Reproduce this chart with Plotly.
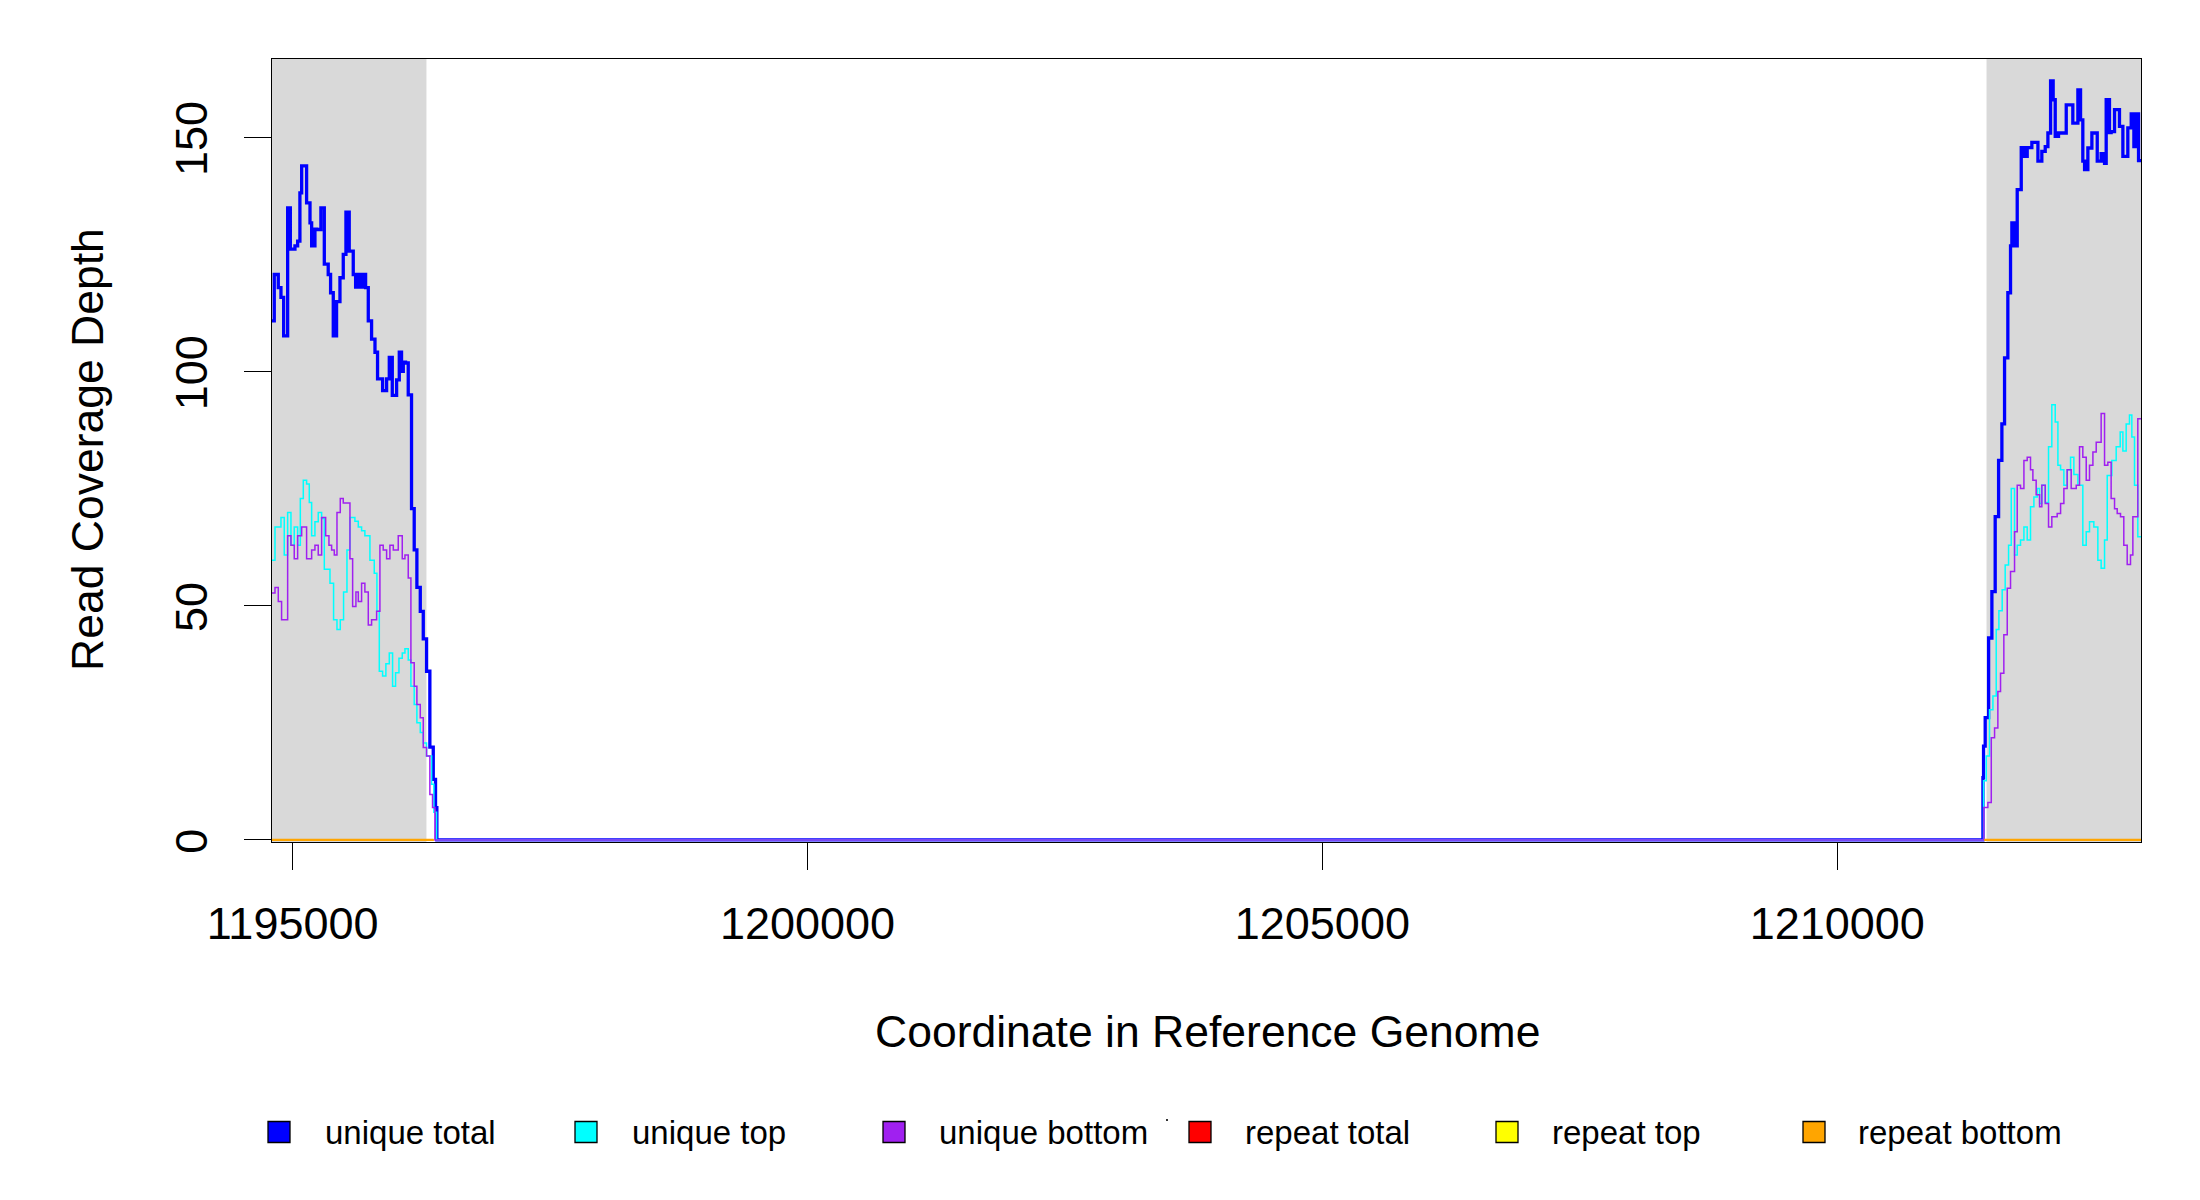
import plotly.graph_objects as go

# ---------------- data ----------------
x_ticks = [1195000, 1200000, 1205000, 1210000]
x_tick_labels = ["1195000", "1200000", "1205000", "1210000"]
y_ticks = [0, 50, 100, 150]
y_tick_labels = ["0", "50", "100", "150"]
x_limits = [1194800, 1212950]
y_limits = [-0.45, 166.7]

shaded_regions = [[1194800, 1196300], [1211450, 1212950]]

# unique total, left block (step starts) and right block
ut_left_x = [1194800, 1194822, 1194861, 1194887, 1194913, 1194952, 1194978, 1195023, 1195049, 1195071,
             1195088, 1195136, 1195169, 1195185, 1195217, 1195233, 1195275, 1195308, 1195346, 1195369,
             1195395, 1195427, 1195460, 1195492, 1195518, 1195550, 1195589, 1195612, 1195638, 1195664,
             1195686, 1195709, 1195735, 1195767, 1195800, 1195825, 1195874, 1195913, 1195939, 1195968,
             1196010, 1196036, 1196058, 1196075, 1196097, 1196123, 1196155, 1196181, 1196207, 1196240,
             1196269, 1196301, 1196333, 1196366, 1196388, 1196401]
ut_left_y = [110.8, 120.7, 117.9, 115.8, 107.6, 134.9, 126.1, 126.8, 127.8, 138.1,
             143.9, 136.0, 131.7, 126.8, 130.4, 130.3, 134.9, 122.9, 120.7, 116.8,
             107.6, 114.9, 120.0, 125.0, 134.0, 125.7, 120.7, 118.0, 120.7, 118.0,
             120.7, 117.9, 110.8, 106.9, 104.1, 98.4, 95.9, 98.4, 103.0, 94.9,
             98.2, 104.1, 100.0, 102.0, 101.8, 95.0, 70.7, 61.9, 53.9, 48.8,
             42.9, 36.0, 19.8, 12.9, 6.9, 0.0]
ut_right_x = [1211415, 1211421, 1211437, 1211470, 1211502, 1211534, 1211567, 1211599, 1211625, 1211657,
              1211683, 1211696, 1211716, 1211748, 1211787, 1211819, 1211845, 1211890, 1211949, 1211987,
              1212020, 1212046, 1212072, 1212097, 1212117, 1212149, 1212224, 1212288, 1212337, 1212363,
              1212385, 1212402, 1212434, 1212473, 1212525, 1212563, 1212580, 1212596, 1212612, 1212644,
              1212660, 1212693, 1212741, 1212774, 1212822, 1212855, 1212881, 1212903, 1212926, 1212950]
ut_right_y = [13.3, 20.0, 26.1, 43.1, 53.0, 69.0, 81.0, 88.8, 102.9, 116.8,
              126.8, 131.7, 126.8, 138.8, 147.8, 145.9, 147.8, 148.9, 144.9, 147.0,
              148.0, 150.9, 162.0, 158.0, 150.2, 150.9, 156.9, 153.0, 160.1, 153.7,
              144.9, 143.1, 147.7, 150.9, 144.9, 146.5, 144.9, 144.4, 158.0, 151.0,
              151.2, 155.9, 152.3, 145.9, 152.0, 155.0, 148.0, 155.0, 145.0, 145.0]

# unique top
utop_left_x = [1194800, 1194829, 1194887, 1194919, 1194952, 1194984, 1195016, 1195049, 1195075, 1195104,
               1195136, 1195162, 1195185, 1195217, 1195249, 1195282, 1195308, 1195363, 1195398, 1195431,
               1195463, 1195495, 1195528, 1195557, 1195605, 1195638, 1195670, 1195702, 1195751, 1195793,
               1195819, 1195842, 1195874, 1195906, 1195939, 1195971, 1196000, 1196033, 1196065, 1196091,
               1196123, 1196149, 1196181, 1196207, 1196240, 1196269, 1196301, 1196350, 1196372, 1196398]
utop_left_y = [59.7, 66.8, 68.8, 60.8, 69.9, 62.9, 66.8, 62.9, 72.9, 76.8,
               76.0, 72.0, 64.9, 67.9, 69.9, 68.6, 57.8, 54.8, 47.0, 44.9,
               47.0, 52.9, 61.9, 68.8, 68.0, 66.8, 66.0, 64.9, 59.7, 56.9,
               48.8, 36.0, 35.0, 37.6, 39.9, 32.8, 35.7, 38.8, 39.9, 40.8,
               38.4, 32.8, 28.9, 25.0, 22.9, 20.7, 17.9, 11.9, 5.9, 0.0]
utop_right_x = [1211421, 1211447, 1211479, 1211512, 1211544, 1211570, 1211602, 1211631, 1211664, 1211690,
                1211722, 1211748, 1211780, 1211813, 1211845, 1211877, 1211910, 1211942, 1211965, 1211987,
                1212020, 1212052, 1212084, 1212117, 1212143, 1212169, 1212201, 1212233, 1212266, 1212298,
                1212337, 1212385, 1212418, 1212450, 1212492, 1212531, 1212563, 1212596, 1212622, 1212667,
                1212709, 1212748, 1212774, 1212806, 1212838, 1212861, 1212887, 1212919, 1212950]
utop_right_y = [12.6, 17.9, 27.8, 30.7, 44.9, 48.9, 53.4, 58.7, 62.9, 75.0,
                60.8, 62.9, 64.0, 66.8, 64.0, 71.1, 73.2, 75.0, 71.8, 75.7,
                72.0, 83.9, 92.9, 89.2, 80.0, 79.0, 75.7, 79.0, 81.7, 78.0,
                75.7, 62.9, 65.8, 67.9, 66.8, 59.7, 58.0, 64.0, 77.8, 81.0,
                83.9, 87.1, 83.0, 88.8, 90.7, 86.0, 75.7, 64.7, 64.7]

# unique bottom
ubot_left_x = [1194800, 1194829, 1194861, 1194893, 1194952, 1194984, 1195016, 1195049, 1195088, 1195136,
               1195185, 1195217, 1195249, 1195282, 1195321, 1195353, 1195379, 1195405, 1195431, 1195463,
               1195492, 1195557, 1195583, 1195615, 1195638, 1195670, 1195702, 1195735, 1195767, 1195816,
               1195848, 1195880, 1195913, 1195945, 1195978, 1196026, 1196065, 1196091, 1196123, 1196149,
               1196181, 1196207, 1196240, 1196269, 1196301, 1196333, 1196359, 1196382]
ubot_left_y = [52.7, 53.9, 50.9, 47.0, 64.9, 62.9, 60.0, 64.9, 66.8, 60.0,
               61.9, 62.9, 60.8, 68.8, 64.9, 62.9, 61.9, 60.8, 69.9, 72.9,
               71.9, 60.0, 49.8, 52.9, 50.9, 54.8, 52.9, 45.9, 47.0, 48.8,
               62.9, 61.9, 60.0, 62.9, 61.9, 64.9, 60.0, 60.8, 55.9, 37.8,
               32.8, 28.9, 26.1, 19.7, 17.9, 9.7, 6.9, 0.0]
ubot_right_x = [1211424, 1211463, 1211496, 1211528, 1211560, 1211586, 1211618, 1211651, 1211683, 1211722,
                1211748, 1211780, 1211813, 1211845, 1211877, 1211900, 1211932, 1211965, 1211987, 1212020,
                1212052, 1212084, 1212136, 1212169, 1212201, 1212233, 1212272, 1212321, 1212353, 1212385,
                1212418, 1212450, 1212483, 1212515, 1212563, 1212596, 1212628, 1212660, 1212693, 1212719,
                1212751, 1212783, 1212816, 1212848, 1212871, 1212919, 1212950]
ubot_right_y = [6.9, 8.0, 21.8, 23.9, 31.7, 35.6, 43.8, 53.7, 57.3, 65.8,
                75.7, 75.0, 81.0, 81.7, 79.0, 76.8, 73.7, 71.1, 75.7, 71.8,
                66.8, 69.0, 69.7, 71.8, 75.0, 79.0, 75.0, 75.7, 83.9, 81.7,
                76.8, 80.0, 82.8, 84.9, 91.0, 80.0, 80.6, 72.9, 70.7, 69.7,
                69.0, 62.9, 58.8, 60.8, 69.0, 89.9, 89.9]

# repeat series (all zero, only inside the covered blocks)
repeat_x = [1194800, 1196370, None, 1211430, 1212950]
repeat_total_y = [0, 0, None, 0, 0]
repeat_top_y = [0, 0, None, 0, 0]
repeat_bottom_y = [0, 0, None, 0, 0]

legend_labels = ["unique total", "unique top", "unique bottom", "repeat total", "repeat top", "repeat bottom"]
legend_colors = ["#0000FF", "#00FFFF", "#A020F0", "#FF0000", "#FFFF00", "#FFA500"]

# ---------------- figure ----------------
# the page body adds an 8 px offset; all pixel targets below are in screen coordinates
OFF = 8
W, H = 2184, 1184
SCR_L, SCR_R, SCR_T, SCR_B = 272, 2141, 59, 842
ML, MT = SCR_L - OFF, SCR_T - OFF
MR, MB = W - (SCR_R - OFF), H - (SCR_B - OFF)
PW, PH = W - ML - MR, H - MT - MB
FONT = "Liberation Sans, Arial, Helvetica, sans-serif"


def px_x(px):
    return (px - SCR_L) / PW


def px_y(py):
    return (SCR_B - py) / PH


fig = go.Figure()

series = [
    (ut_left_x + ut_right_x, ut_left_y + ut_right_y, legend_colors[0], 3.3),
    (utop_left_x + utop_right_x, utop_left_y + utop_right_y, legend_colors[1], 1.5),
    (ubot_left_x + ubot_right_x, ubot_left_y + ubot_right_y, legend_colors[2], 1.5),
    (repeat_x, repeat_total_y, legend_colors[3], 1.5),
    (repeat_x, repeat_top_y, legend_colors[4], 1.5),
    (repeat_x, repeat_bottom_y, legend_colors[5], 2.2),
]
for (xs, ys, col, w), name in zip(series, legend_labels):
    fig.add_trace(go.Scatter(x=xs, y=ys, mode="lines", name=name,
                             line=dict(color=col, width=w, shape="hv"),
                             connectgaps=False, showlegend=False, hoverinfo="skip"))

shapes = []
for x0, x1 in shaded_regions:
    shapes.append(dict(type="rect", xref="x", yref="paper", x0=x0, x1=x1, y0=0, y1=1,
                       fillcolor="#D9D9D9", line=dict(width=0), layer="below"))

annotations = []
# legend drawn as boxes + text
legend_box_cx = [279, 586, 894, 1200, 1507, 1814]
legend_text_x = [323, 630, 937, 1243, 1550, 1856]
legend_cy = 1132
for cx, tx, lab, col in zip(legend_box_cx, legend_text_x, legend_labels, legend_colors):
    shapes.append(dict(type="rect", xref="paper", yref="paper",
                       x0=px_x(cx - 11), x1=px_x(cx + 11), y0=px_y(legend_cy + 10.5), y1=px_y(legend_cy - 10.5),
                       fillcolor=col, line=dict(color="black", width=1.3), layer="above"))
    annotations.append(dict(xref="paper", yref="paper", x=px_x(tx), y=px_y(legend_cy),
                            xanchor="left", yanchor="middle", text=lab, showarrow=False,
                            font=dict(family=FONT, size=33, color="black")))
# tiny stray dot seen in the reference legend
shapes.append(dict(type="rect", xref="paper", yref="paper",
                   x0=px_x(1166), x1=px_x(1168), y0=px_y(1121), y1=px_y(1119),
                   fillcolor="#333333", line=dict(width=0)))

# axis titles
annotations.append(dict(xref="paper", yref="paper", x=px_x(1207), y=px_y(1031),
                        xanchor="center", yanchor="middle", text="Coordinate in Reference Genome",
                        showarrow=False, font=dict(family=FONT, size=44.5, color="black")))
annotations.append(dict(xref="paper", yref="paper", x=px_x(87), y=px_y(450),
                        xanchor="center", yanchor="middle", text="Read Coverage Depth", textangle=-90,
                        showarrow=False, font=dict(family=FONT, size=44.5, color="black")))

fig.update_layout(
    width=W, height=H,
    margin=dict(l=ML, r=MR, t=MT, b=MB, pad=0),
    paper_bgcolor="white", plot_bgcolor="white",
    showlegend=False,
    shapes=shapes, annotations=annotations,
    font=dict(family=FONT, color="black"),
    xaxis=dict(range=x_limits, tickmode="array", tickvals=x_ticks, ticktext=x_tick_labels,
               ticks="outside", ticklen=27, tickwidth=1.3, tickcolor="black",
               showline=True, mirror=True, linecolor="black", linewidth=1.3,
               showgrid=False, zeroline=False, layer="below traces",
               tickfont=dict(family=FONT, size=45, color="black"), ticklabelstandoff=15),
    yaxis=dict(range=y_limits, tickmode="array", tickvals=y_ticks, ticktext=y_tick_labels,
               ticks="outside", ticklen=27, tickwidth=1.3, tickcolor="black",
               showline=True, mirror=True, linecolor="black", linewidth=1.3,
               showgrid=False, zeroline=False, layer="below traces", tickangle=-90,
               tickfont=dict(family=FONT, size=45, color="black"), ticklabelstandoff=19,
               ticklabelshift=8),
)

fig.write_html("out.html")
